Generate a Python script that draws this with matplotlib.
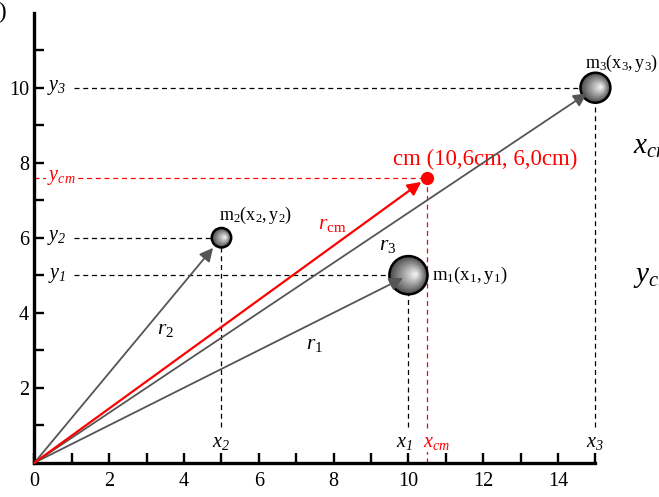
import matplotlib
matplotlib.use("Agg")
import matplotlib.pyplot as plt
from matplotlib.patches import Circle, FancyArrowPatch
import numpy as np

# ---- data ----
mass_names = ["1", "2", "3"]
mass_x = [10, 5, 15]
mass_y = [5, 6, 10]
cm_x = 10.5
cm_y = 7.6
cm_label = "cm (10,6cm, 6,0cm)"
x_ticks = list(range(0, 16))
x_tick_labels = ["0", "", "2", "", "4", "", "6", "", "8", "", "10", "", "12", "", "14", ""]
y_ticks = list(range(1, 12))
y_tick_labels = ["", "2", "", "4", "", "6", "", "8", "", "10", ""]

plt.rcParams['font.family'] = ['Liberation Serif', 'DejaVu Serif']
plt.rcParams['mathtext.fontset'] = 'custom'
plt.rcParams['mathtext.rm'] = 'Liberation Serif'
plt.rcParams['mathtext.it'] = 'Liberation Serif:italic'
plt.rcParams['mathtext.sf'] = 'Liberation Serif:italic'

fig = plt.figure(figsize=(6.59, 4.97), dpi=100)
ax = fig.add_axes([0, 0, 1, 1])
ax.set_xlim(-0.922, 16.70)
ax.set_ylim(-0.915, 12.34)

for s in ['top', 'right']:
    ax.spines[s].set_visible(False)
ax.spines['left'].set_position(('data', 0))
ax.spines['bottom'].set_position(('data', 0))
ax.spines['left'].set_bounds(0, 12)
ax.spines['bottom'].set_bounds(0, 15)
ax.spines['left'].set_linewidth(2.4)
ax.spines['bottom'].set_linewidth(2.4)

ax.set_xticks(x_ticks)
ax.set_xticklabels(x_tick_labels)
ax.set_yticks(y_ticks)
ax.set_yticklabels(y_tick_labels)
ax.tick_params(direction='in', length=7.5, width=1.7, labelsize=14.5)
ax.tick_params(axis='x', pad=7)
ax.tick_params(axis='y', pad=4)

gray = '#555555'
dash = (0, (4, 3))

# dashed guide lines
for i in range(3):
    xi, yi = mass_x[i], mass_y[i]
    ax.plot([1.05, xi], [yi, yi], color='black', lw=0.9, ls=dash, zorder=1)
    ax.plot([xi, xi], [0.95, yi], color='black', lw=0.9, ls=dash, zorder=1)
    ax.text(0.6, yi, r'$\mathsf{y_%s}$' % mass_names[i], ha='center', va='center', fontsize=14.5)
    ax.text(xi - (0.12 if i == 0 else 0), 0.55, r'$\mathsf{x_%s}$' % mass_names[i],
            ha='center', va='center', fontsize=14.5)

ax.plot([0, cm_x], [cm_y, cm_y], color='red', lw=0.9, ls=dash, zorder=1)
ax.plot([cm_x, cm_x], [0, cm_y], color='red', lw=0.9, ls=dash, zorder=1)
ax.text(0.72, cm_y, r'$\mathsf{y_{cm}}$', ha='center', va='center', fontsize=14.5, color='red',
        bbox=dict(facecolor='white', edgecolor='none', pad=0.5), zorder=2)
ax.text(10.75, 0.55, r'$\mathsf{x_{cm}}$', ha='center', va='center', fontsize=14.5, color='red',
        bbox=dict(facecolor='white', edgecolor='none', pad=0.5), zorder=2)

# spheres
radii = [0.51, 0.26, 0.40]
for i in range(3):
    xi, yi, r = mass_x[i], mass_y[i], radii[i]
    N = 14
    for k in range(N):
        t = k / N
        rr = r * (1 - t)
        c = 0.3 + 0.7 * t
        cx = xi + 0.4 * r * t
        cy = yi + 0.05 * r * t
        ax.add_patch(Circle((cx, cy), rr, facecolor=(c, c, c), edgecolor='none', zorder=3))
    ax.add_patch(Circle((xi, yi), r, facecolor='none', edgecolor='black', lw=1.8, zorder=4))

# arrows
fracs = [0.985, 0.955, 0.985]
for i in range(3):
    xi, yi = mass_x[i], mass_y[i]
    f = fracs[i]
    ax.add_patch(FancyArrowPatch((0, 0), (xi * f, yi * f), arrowstyle='-|>', mutation_scale=20,
                                 color=gray, lw=1.3, shrinkA=0, shrinkB=0, zorder=5))
ax.add_patch(FancyArrowPatch((0, 0), (cm_x * 0.985, cm_y * 0.985), arrowstyle='-|>', mutation_scale=20,
                             color='red', lw=1.6, shrinkA=0, shrinkB=0, zorder=6))
ax.plot([cm_x], [cm_y], 'o', color='red', markersize=8.5, zorder=7)

# labels
ax.text(3.5, 3.55, r'$r_{\mathrm{2}}$', fontsize=15.5, ha='center', va='center')
ax.text(7.5, 3.15, r'$r_{\mathrm{1}}$', fontsize=15.5, ha='center', va='center')
ax.text(9.45, 5.8, r'$r_{\mathrm{3}}$', fontsize=15.5, ha='center', va='center')
ax.text(7.95, 6.35, r'$r_{\mathrm{cm}}$', fontsize=15.5, ha='center', va='center', color='red')
ax.text(10.62, 5.0, r'$\mathrm{m_1(x_1,y_1)}$', fontsize=13.5, ha='left', va='center')
ax.text(5.9, 6.6, r'$\mathrm{m_2(x_2,y_2)}$', fontsize=13, ha='center', va='center')
ax.text(14.72, 10.65, r'$\mathrm{m_3(x_3,y_3)}$', fontsize=13, ha='left', va='center')
ax.text(12.05, 8.1, cm_label, fontsize=16.5, ha='center', va='center', color='red')

# clipped surrounding text (the reference is cut at its edges)
fig.text(633 / 659, 1 - 147 / 497, r'$\mathsf{x_{cm}}$', fontsize=21, ha='left', va='center')
fig.text(633 / 659, 1 - 277 / 497, r'$\mathsf{y_{cm}}$', fontsize=21, ha='left', va='center')
fig.text(7 / 659, 1 - 12 / 497, '(b)', fontsize=17, ha='right', va='center')

fig.savefig('out.png', dpi=100)
